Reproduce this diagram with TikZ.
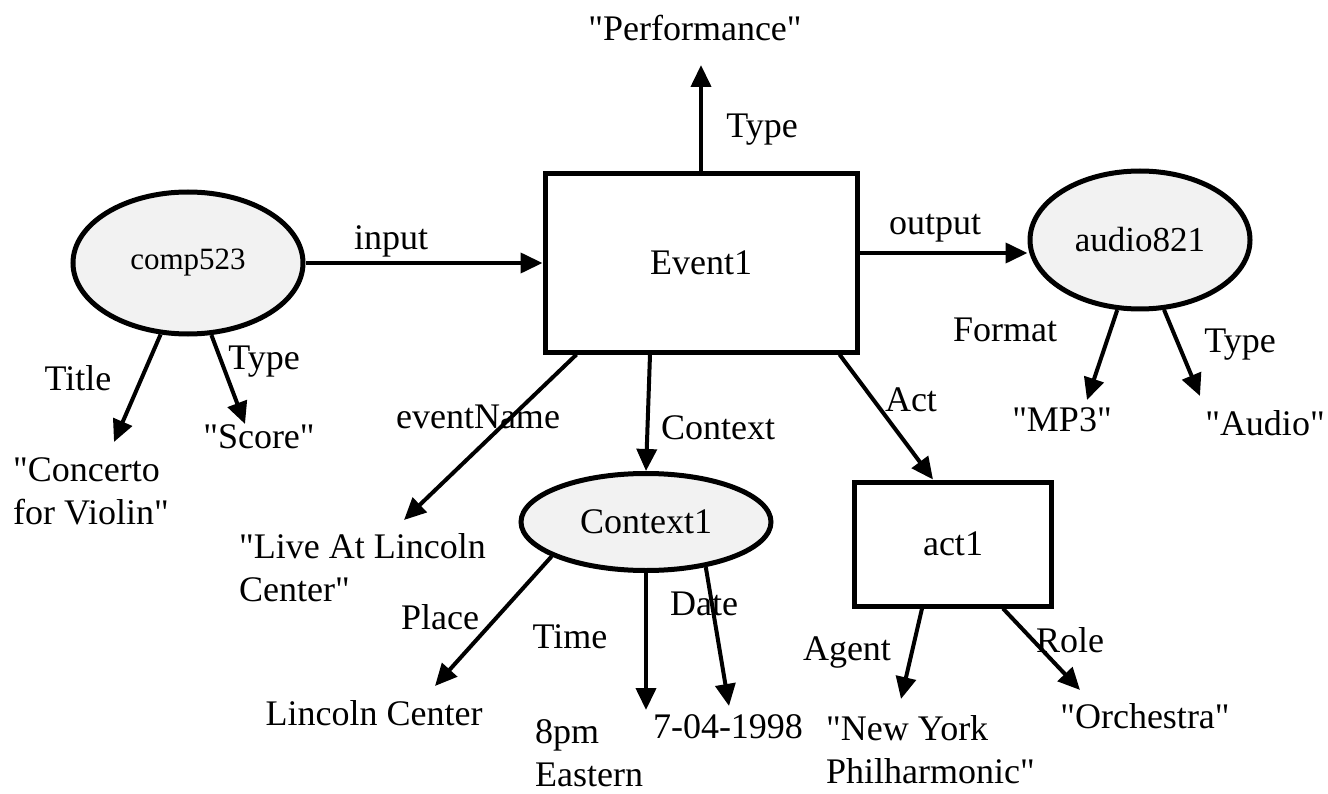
\documentclass[tikz,border=0pt]{standalone}
\usepackage{fontspec}
\setmainfont{Liberation Serif}[Ligatures=TeXOff]
\usetikzlibrary{shapes.geometric,arrows.meta}
\begin{document}
\begin{tikzpicture}[x=1pt,y=-1pt,
  lbl/.style={font=\fontsize{36}{43}\selectfont, inner sep=0pt},
  lbll/.style={font=\fontsize{36}{43}\selectfont, inner sep=0pt, align=left, anchor=west},
  arr/.style={line width=4pt, -{Triangle[length=22pt,width=20pt]}},
  oval/.style={ellipse, draw, line width=5pt, fill=gray!10, inner sep=0pt},
  boxnode/.style={rectangle, draw, line width=5pt, fill=white, inner sep=0pt}]
\path[use as bounding box, fill=white] (0,0) rectangle (1328,794);

% main nodes
\node[boxnode, minimum width=312pt, minimum height=178pt, font=\fontsize{36}{44}\selectfont] (ev) at (701,263) {Event1};
\node[oval, minimum width=230pt, minimum height=142pt, font=\fontsize{31}{38}\selectfont] (comp) at (188,263) {comp523};
\node[oval, minimum width=220pt, minimum height=138pt, font=\fontsize{35}{42}\selectfont] (audio) at (1140,240) {audio821};
\node[oval, minimum width=250pt, minimum height=97pt, font=\fontsize{36}{44}\selectfont] (ctx) at (646,522) {Context1};
\node[boxnode, minimum width=197pt, minimum height=124pt, font=\fontsize{36}{44}\selectfont] (act) at (953,544) {act1};

% value nodes
\node[lbl] (perf) at (695,28) {"Performance"};
\node[lbl] (score) at (259,437) {"Score"};
\node[lbll] (concerto) at (13,491) {"Concerto\\for Violin"};
\node[lbll] (live) at (239,568) {"Live At Lincoln\\Center"};
\node[lbl] (lincoln) at (374,713) {Lincoln Center};
\node[lbll] (eight) at (535,753) {8pm\\Eastern};
\node[lbl] (date) at (728,727) {7-04-1998};
\node[lbll] (ny) at (826,750) {"New York\\Philharmonic"};
\node[lbl] (orch) at (1145,716) {"Orchestra"};
\node[lbl] (mp3) at (1062,420) {"MP3"};
\node[lbl] (audioval) at (1265,423) {"Audio"};

% arrow tips
\coordinate (tperf) at (701,65);
\coordinate (ttitle) at (114,442);
\coordinate (tscore) at (245,424);
\coordinate (tevname) at (404,520);
\coordinate (tplace) at (435,686);
\coordinate (ttime) at (646,710);
\coordinate (tdate) at (729,706);
\coordinate (tagent) at (901,699);
\coordinate (trole) at (1080,690);
\coordinate (tmp3) at (1087,400);
\coordinate (taudio) at (1200,396);

% connectors
\draw[arr] (ev.north) -- (tperf);
\draw[arr] (comp.east) -- (ev.west);
\draw[arr] ([yshift=10pt]ev.east) -- ([yshift=10pt]ev.east -| audio.west);
\draw[arr] (comp.249) -- (ttitle);
\draw[arr] (comp.288) -- (tscore);
\draw[arr] ([xshift=34pt]ev.south west) -- (tevname);
\draw[arr] ([xshift=-51pt]ev.south) -- (ctx.north);
\draw[arr] ([xshift=-20pt]ev.south east) -- ([xshift=-20pt]act.north);
\draw[arr] (audio.252) -- (tmp3);
\draw[arr] (audio.289) -- (taudio);
\draw[arr] (ctx.200) -- (tplace);
\draw[arr] (ctx.south) -- (ttime);
\draw[arr] (ctx.323) -- (tdate);
\draw[arr] ([xshift=-31pt]act.south) -- (tagent);
\draw[arr] ([xshift=50pt]act.south) -- (trole);

% edge labels
\node[lbl] (ltype) at (762,130) {Type};
\node[lbl] (linput) at (391,241) {input};
\node[lbl] (loutput) at (935,228) {output};
\node[lbl] (ltitle) at (78,378) {Title};
\node[lbl] (lctype) at (264,362) {Type};
\node[lbl] (levname) at (478,417) {eventName};
\node[lbl] (lcontext) at (718,428) {Context};
\node[lbl] (lact) at (911,400) {Act};
\node[lbl] (lformat) at (1005,330) {Format};
\node[lbl] (latype) at (1240,345) {Type};
\node[lbl] (lplace) at (440,617) {Place};
\node[lbl] (ltime) at (570,637) {Time};
\node[lbl] (ldate) at (704,604) {Date};
\node[lbl] (lagent) at (847,652) {Agent};
\node[lbl] (lrole) at (1070,640) {Role};
\end{tikzpicture}
\end{document}
